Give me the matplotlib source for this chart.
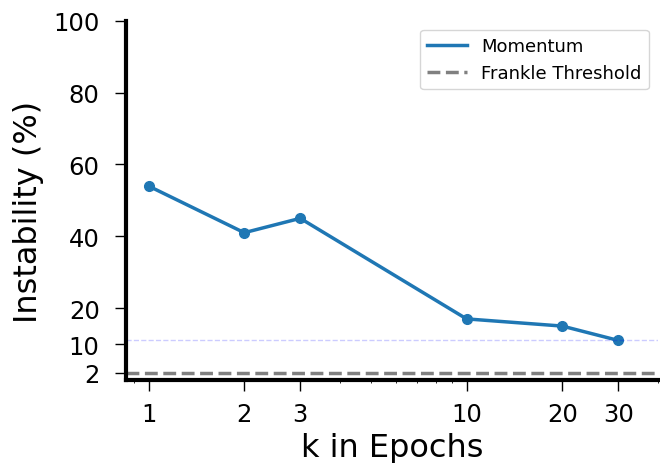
import matplotlib
matplotlib.use("Agg")
import matplotlib.pyplot as plt
from matplotlib.ticker import FixedLocator, FixedFormatter, NullFormatter

k_epochs = [1, 2, 3, 10, 20, 30]
instability = [54, 41, 45, 17, 15, 11]
frankle_threshold = 2
y_ticks = [2, 10, 20, 40, 60, 80, 100]

fig = plt.figure(figsize=(6.6, 4.64), dpi=100)
ax = fig.add_axes([0.191, 0.179, 0.806, 0.774])

ax.plot(k_epochs, instability, '-', color='#1f77b4', lw=2.5, label='Momentum')
ax.plot(k_epochs, instability, 'o', color='#1f77b4', ms=7)
ax.axhline(frankle_threshold, color='gray', ls='--', lw=2.5, label='Frankle Threshold')
ax.axhline(instability[-1], color='b', alpha=0.2, ls='--', lw=1)

ax.set_xscale('log')
ax.set_xlim(0.85, 40)
ax.set_ylim(0, 100)
ax.xaxis.set_major_locator(FixedLocator(k_epochs))
ax.xaxis.set_major_formatter(FixedFormatter([str(k) for k in k_epochs]))
ax.xaxis.set_minor_formatter(NullFormatter())
ax.set_yticks(y_ticks)

ax.tick_params(axis='both', which='major', labelsize=17.5, length=8, width=1)
ax.tick_params(axis='x', which='major', pad=8)
ax.tick_params(axis='y', which='major', pad=11)
for side in ['top', 'right']:
    ax.spines[side].set_visible(False)
for side in ['left', 'bottom']:
    ax.spines[side].set_linewidth(3)

ax.set_xlabel('k in Epochs', fontsize=23, labelpad=4)
ax.set_ylabel('Instability (%)', fontsize=23)
ax.yaxis.set_label_coords(-0.155, 0.47)
ax.legend(loc='upper right', fontsize=13, handlelength=2.2)

fig.savefig('out.png', dpi=100)
